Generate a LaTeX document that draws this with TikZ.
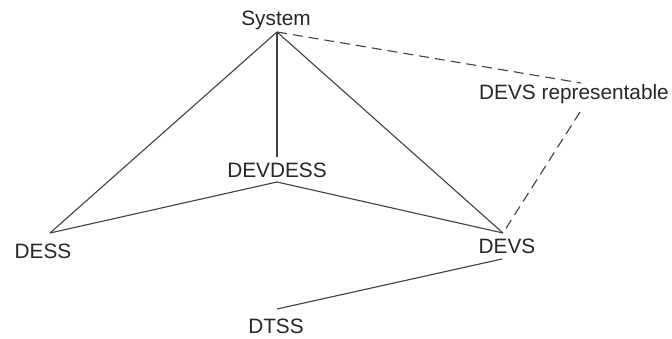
\documentclass[tikz,border=0pt]{standalone}
\usepackage{fontspec}
\setmainfont{Liberation Sans}
\begin{document}
\begin{tikzpicture}[x=1pt, y=-1pt,
    lbl/.style={font=\fontsize{20.8}{24}\selectfont, text=black!85, inner sep=0pt, anchor=base},
    link/.style={draw=black!75, line width=1.1pt},
    maybe/.style={link, dash pattern=on 10pt off 6pt}]
  \useasboundingbox (0,0) rectangle (672,338);
  % class names
  \node[lbl] (system) at (276,25) {System};
  \node[lbl] (devdess) at (277,177) {DEVDESS};
  \node[lbl] (dess) at (43,258) {DESS};
  \node[lbl] (devs) at (507,253) {DEVS};
  \node[lbl] (devsrep) at (574,99) {DEVS representable};
  \node[lbl] (dtss) at (276,333) {DTSS};
  % where the lines meet the names
  \coordinate (systemP) at (277,32);
  \coordinate (devdessT) at (277,157);
  \coordinate (devdessB) at (277,182);
  \coordinate (dessP) at (50,233);
  \coordinate (devsT) at (503,233);
  \coordinate (devsB) at (502,259);
  \coordinate (dtssP) at (277,309);
  \coordinate (devsrepT) at (581,83);
  \coordinate (devsrepB) at (580,112);
  % specialisation
  \draw[link] (systemP) -- (dessP);
  \draw[link] (systemP) -- (devdessT);
  \draw[link] (systemP) -- (devsT);
  \draw[link] (devdessB) -- (dessP);
  \draw[link] (devdessB) -- (devsT);
  \draw[link] (devsB) -- (dtssP);
  % representable by DEVS
  \draw[maybe] (systemP) -- (devsrepT);
  \draw[maybe] (devsrepB) -- (devsT);
\end{tikzpicture}
\end{document}
